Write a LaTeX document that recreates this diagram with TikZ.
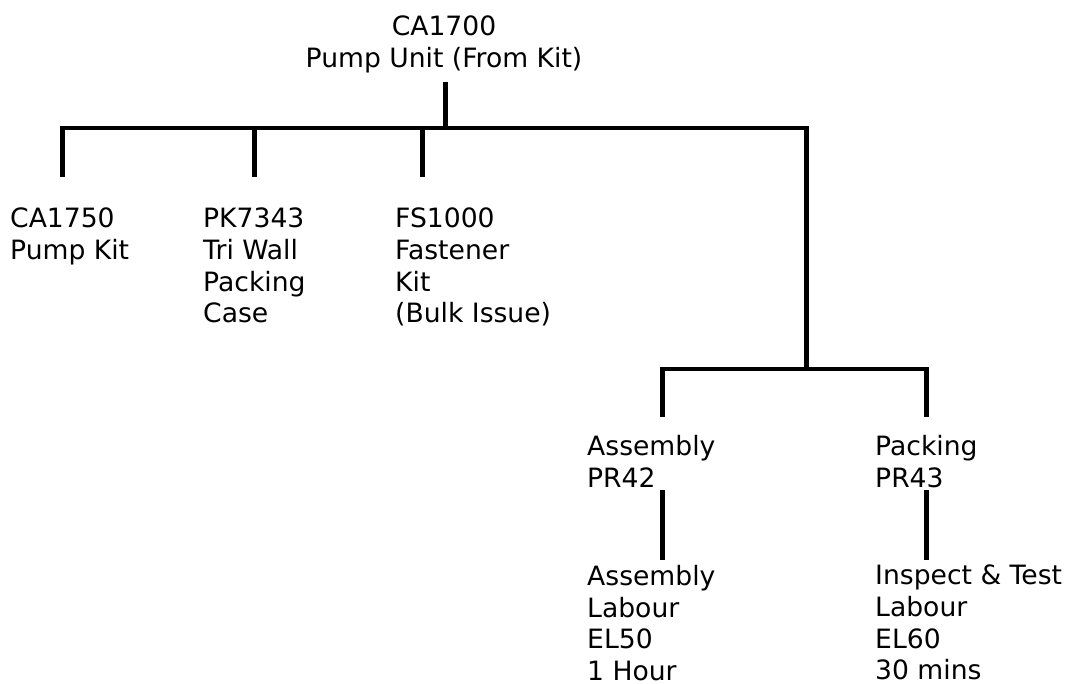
\documentclass[tikz,border=0pt]{standalone}
\usepackage{fontspec}
\setmainfont{DejaVu Sans}
\usepackage{tikz}

\tikzset{
    part/.style={align=left, inner sep=0pt, anchor=north west,
        font=\fontsize{26.6}{31.6}\selectfont},
    bar/.style={line width=4pt},
    stem/.style={line width=5pt}
}

\begin{document}
\begin{tikzpicture}[x=1pt, y=-1pt]
        \useasboundingbox (0,0) rectangle (1078,684);

        % parts
        \node[part, align=center, anchor=north] (pump) at (444,16) {CA1700\\Pump Unit (From Kit)};
        \node[part] (kit) at (10,208) {CA1750\\Pump Kit};
        \node[part] (case) at (203,208) {PK7343\\Tri Wall\\Packing\\Case};
        \node[part] (fast) at (395,208) {FS1000\\Fastener\\Kit\\(Bulk Issue)};
        \node[part] (asm) at (587,435) {Assembly\\PR42};
        \node[part] (pack) at (875,435) {Packing\\PR43};
        \node[part] (asmlab) at (587,565) {Assembly\\Labour\\EL50\\1 Hour};
        \node[part] (testlab) at (875,565) {Inspect \& Test\\Labour\\EL60\\30 mins};

        % junctions
        \coordinate (pumpfoot) at (445,82);
        \coordinate (top) at (445,128.5);
        \coordinate (topl) at (59.5,128.5);
        \coordinate (topr) at (808.5,128.5);
        \coordinate (kittop) at (62,126.5);
        \coordinate (kitfoot) at (62,177);
        \coordinate (casetop) at (254,126.5);
        \coordinate (casefoot) at (254,177);
        \coordinate (fasttop) at (422,126.5);
        \coordinate (fastfoot) at (422,177);
        \coordinate (opstop) at (806,126.5);
        \coordinate (ops) at (806,369);
        \coordinate (opsl) at (659.5,369);
        \coordinate (opsr) at (928.5,369);
        \coordinate (asmtop) at (662,367);
        \coordinate (asmfoot) at (662,417);
        \coordinate (packtop) at (926,367);
        \coordinate (packfoot) at (926,417);
        \coordinate (asmlow) at (662,490);
        \coordinate (asmlabtop) at (662,560);
        \coordinate (packlow) at (926,490);
        \coordinate (testlabtop) at (926,560);

        % tree lines
        \draw[stem] (pumpfoot) -- (top);
        \draw[bar] (topl) -- (topr);
        \draw[stem] (kittop) -- (kitfoot);
        \draw[stem] (casetop) -- (casefoot);
        \draw[stem] (fasttop) -- (fastfoot);
        \draw[stem] (opstop) -- (ops);
        \draw[bar] (opsl) -- (opsr);
        \draw[stem] (asmtop) -- (asmfoot);
        \draw[stem] (packtop) -- (packfoot);
        \draw[stem] (asmlow) -- (asmlabtop);
        \draw[stem] (packlow) -- (testlabtop);
\end{tikzpicture}
\end{document}
